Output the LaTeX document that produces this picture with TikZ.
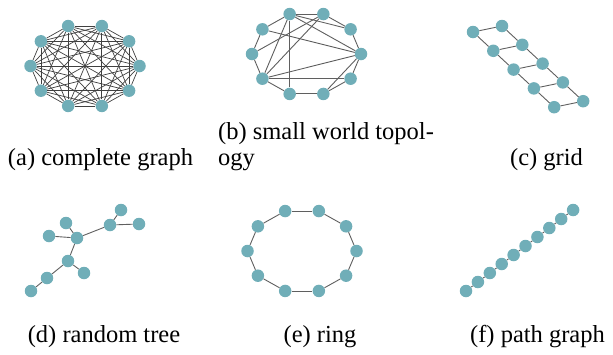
\documentclass[tikz,border=0pt]{standalone}
\usepackage{fontspec}
\setmainfont{Liberation Serif}
\definecolor{nodeteal}{RGB}{112,174,184}
\definecolor{edgegray}{RGB}{95,95,95}
\tikzset{
    vert/.style={shape=circle, fill=nodeteal, inner sep=0, minimum size=12.5pt},
    edge/.style={draw=edgegray, line width=0.9pt},
    kedge/.style={draw=black!75, line width=0.7pt},
    captext/.style={anchor=base, inner sep=0, font=\fontsize{24.5}{26}\selectfont}
}
\begin{document}
\begin{tikzpicture}[x=1pt, y=-1pt]
        \useasboundingbox (0, 0) rectangle (613, 354);
        % (a) complete graph:
        \foreach \i in {1,...,10}
            \node[vert](K\i) at ({85+54.5*cos(36*(\i-1))}, {66-42*sin(36*(\i-1))}){};
        \foreach \i in {1,...,9}{
            \pgfmathtruncatemacro{\nxt}{\i+1}
            \foreach \j in {\nxt,...,10}
                \draw[kedge] (K\i) -- (K\j);
        }
        % (b) small world:
        \foreach \i in {1,...,10}
            \node[vert](W\i) at ({306.5+54.5*cos(36*(\i-1))}, {54-42*sin(36*(\i-1))}){};
        \foreach \i in {1,...,10}{
            \pgfmathtruncatemacro{\nxt}{mod(\i,10)+1}
            \draw[edge] (W\i) -- (W\nxt);
        }
        \foreach \a/\b in {4/2, 4/8, 4/7, 3/7, 3/6, 5/1, 4/1, 7/1, 7/10, 9/1}
            \draw[edge] (W\a) -- (W\b);
        % (c) grid:
        \foreach \i in {1,...,5}{
            \node[vert](GL\i) at ({473+20.3*(\i-1)}, {32+18.8*(\i-1)}){};
            \node[vert](GR\i) at ({502+20.3*(\i-1)}, {26+18.8*(\i-1)}){};
            \draw[edge] (GL\i) -- (GR\i);
        }
        \foreach \i in {1,...,4}{
            \pgfmathtruncatemacro{\nxt}{\i+1}
            \draw[edge] (GL\i) -- (GL\nxt);
            \draw[edge] (GR\i) -- (GR\nxt);
        }
        % (d) random tree:
        \node[vert](T1) at (121, 210){};
        \node[vert](T2) at (139, 224){};
        \node[vert](T3) at (110, 225){};
        \node[vert](T4) at (66, 223){};
        \node[vert](T5) at (49, 236){};
        \node[vert](T6) at (77, 238){};
        \node[vert](T7) at (68, 261){};
        \node[vert](T8) at (84, 273){};
        \node[vert](T9) at (47, 278){};
        \node[vert](T10) at (31, 291){};
        \foreach \a/\b in {3/1, 3/2, 3/6, 6/4, 6/5, 6/7, 7/8, 7/9, 9/10}
            \draw[edge] (T\a) -- (T\b);
        % (e) ring:
        \foreach \i in {1,...,10}
            \node[vert](R\i) at ({302+54.5*cos(36*(\i-1))}, {251-42*sin(36*(\i-1))}){};
        \foreach \i in {1,...,10}{
            \pgfmathtruncatemacro{\nxt}{mod(\i,10)+1}
            \draw[edge] (R\i) -- (R\nxt);
        }
        % (f) path graph:
        \foreach \i in {1,...,10}
            \node[vert](P\i) at ({466+11.9*(\i-1)}, {291-9*(\i-1)}){};
        \foreach \i in {1,...,9}{
            \pgfmathtruncatemacro{\nxt}{\i+1}
            \draw[edge] (P\i) -- (P\nxt);
        }
        % Captions:
        \node[captext](CapA) at (100.5, 165){(a) complete graph};
        \node[captext, anchor=base west](CapB) at (218, 139){(b) small world topol-};
        \node[captext, anchor=base west](CapBb) at (218, 165){ogy};
        \node[captext](CapC) at (546.5, 165){(c) grid};
        \node[captext](CapD) at (104, 342){(d) random tree};
        \node[captext](CapE) at (320, 342){(e) ring};
        \node[captext](CapF) at (537.5, 342){(f) path graph};
    \end{tikzpicture}
\end{document}
